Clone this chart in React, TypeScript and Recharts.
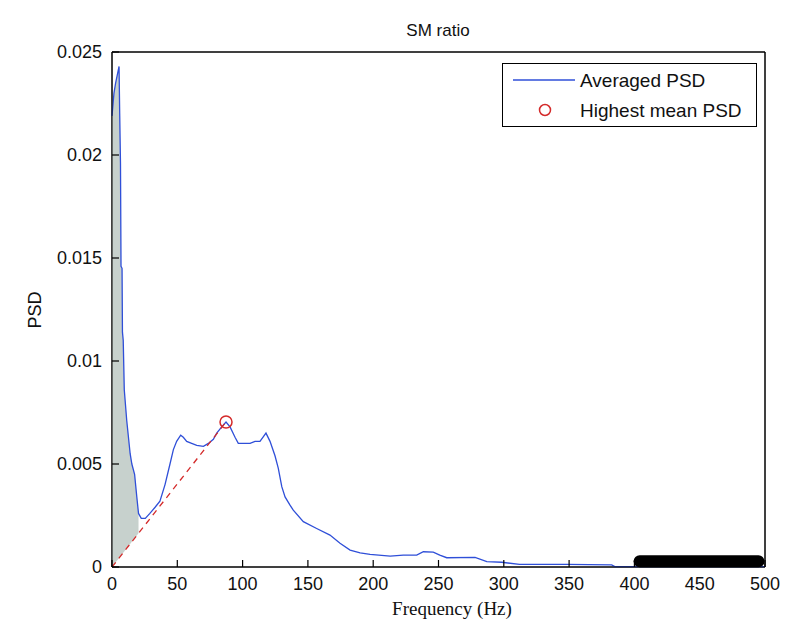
import React from "react";
import {
  ComposedChart,
  Line,
  Area,
  Scatter,
  XAxis,
  YAxis,
  Legend,
  ReferenceArea,
} from "recharts";

// averaged PSD curve
const freqHz = [
  0, 1.5, 2.8, 4.1, 5.4, 5.9, 6.5, 6.9, 7.7, 8.0, 8.6, 9.4, 11.3, 13.9, 15.2,
  17.3, 19.0, 20.3, 22.4, 25.5, 29, 33, 36.7, 40.6, 44.4, 47, 49.5, 52.6, 54.6,
  57.2, 61, 64.9, 70, 73.8, 77.6, 80.2, 84, 87.3, 90.4, 94.2, 96.7, 101.8,
  105.7, 109.5, 113.3, 117.9, 121, 124.8, 127.3, 130, 132.5, 136.3, 138.8,
  146.5, 156.7, 166.9, 174.6, 182.3, 190, 197.6, 213, 223, 233.3, 238.4, 246,
  251, 256.3, 278, 287, 298.4, 312, 348, 382.6, 385, 400, 450, 500,
];
const psd = [
  0.0219, 0.023, 0.0235, 0.0239, 0.0243, 0.022, 0.0196, 0.0146, 0.0145,
  0.0114, 0.011, 0.0086, 0.0071, 0.0055, 0.005, 0.0045, 0.0034, 0.0026,
  0.00236, 0.00236, 0.0026, 0.0029, 0.0032, 0.004, 0.005, 0.0057, 0.0061,
  0.0064, 0.0063, 0.0061, 0.006, 0.0059, 0.00586, 0.006, 0.0062, 0.0065,
  0.0068, 0.00704, 0.0068, 0.0063, 0.006, 0.006, 0.006, 0.0061, 0.0061, 0.0065,
  0.0061, 0.0054, 0.0048, 0.0039, 0.0034, 0.003, 0.00276, 0.0022, 0.00187,
  0.00155, 0.00115, 0.00082, 0.00069, 0.00061, 0.00053, 0.00058, 0.00058,
  0.00074, 0.00072, 0.00058, 0.00045, 0.00047, 0.00026, 0.00023, 0.00013,
  0.00013, 0.0001, 0.00002, 0.00002, 0.00002, 0.00002,
];

// highest mean PSD point
const peakFreq = 87.3;
const peakPsd = 0.00704;
// shaded band ends here
const shadeEndHz = 20.3;
// thick black marker run near the axis
const bandFreq = [404, 495];
const bandPsd = [0.00028, 0.00028];

const xTicks = [0, 50, 100, 150, 200, 250, 300, 350, 400, 450, 500];
const yTicks = [0, 0.005, 0.01, 0.015, 0.02, 0.025];
const yTickLabels = ["0", "0.005", "0.01", "0.015", "0.02", "0.025"];

const curveData = freqHz.map((f, i) => ({
  f,
  psd: psd[i],
  shade: f <= shadeEndHz ? [(peakPsd * f) / peakFreq, psd[i]] : undefined,
}));
const dashData = [
  { f: 0, v: 0 },
  { f: peakFreq, v: peakPsd },
];
const peakData = [{ f: peakFreq, v: peakPsd }];
const bandData = bandFreq.map((f, i) => ({ f, v: bandPsd[i] }));

const BLUE = "#2f4fd8";
const RED = "#d42a2a";
const FONT = "'Liberation Sans', Arial, sans-serif";

const BottomTick = (props: any) => {
  const { x, y, payload } = props;
  return (
    <g>
      <line x1={x} y1={y} x2={x} y2={y - 7} stroke="#000" strokeWidth={1.2} />
      <text x={x} y={y + 17} textAnchor="middle" dominantBaseline="central" fontSize={18} fontFamily={FONT} fill="#111">
        {payload.value}
      </text>
    </g>
  );
};

const TopTick = (props: any) => {
  const { x, y } = props;
  return <line x1={x} y1={y} x2={x} y2={y + 7} stroke="#000" strokeWidth={1.2} />;
};

const LeftTick = (props: any) => {
  const { x, y, payload } = props;
  const idx = yTicks.indexOf(payload.value);
  return (
    <g>
      <line x1={x} y1={y} x2={x + 7} y2={y} stroke="#000" strokeWidth={1.2} />
      <text x={x - 10} y={y} textAnchor="end" dominantBaseline="central" fontSize={18} fontFamily={FONT} fill="#111">
        {idx >= 0 ? yTickLabels[idx] : payload.value}
      </text>
    </g>
  );
};

const RightTick = (props: any) => {
  const { x, y } = props;
  return <line x1={x} y1={y} x2={x - 7} y2={y} stroke="#000" strokeWidth={1.2} />;
};

const LegendBox = () => (
  <svg width={256} height={65}>
    <rect x={0.5} y={0.5} width={254} height={63} fill="#fff" stroke="#000" />
    <line x1={11} y1={17} x2={73} y2={17} stroke={BLUE} strokeWidth={1.3} />
    <text x={78} y={17} dominantBaseline="central" fontSize={19} fontFamily={FONT} fill="#111">
      Averaged PSD
    </text>
    <circle cx={43} cy={47} r={5.5} fill="none" stroke={RED} strokeWidth={1.5} />
    <text x={78} y={47} dominantBaseline="central" fontSize={19} fontFamily={FONT} fill="#111">
      Highest mean PSD
    </text>
  </svg>
);

export default function App() {
  return (
    <div style={{ position: "absolute", left: 0, top: 0, background: "#fff" }}>
      <ComposedChart
        width={795}
        height={638}
        margin={{ top: 51, right: 0, bottom: 0, left: 0 }}
      >
        <XAxis
          xAxisId="bottom"
          dataKey="f"
          type="number"
          domain={[0, 500]}
          ticks={xTicks}
          orientation="bottom"
          height={71}
          tickSize={0}
          tickMargin={0}
          tickLine={false}
          axisLine={{ stroke: "#000" }}
          tick={<BottomTick />}
          interval={0}
          label={{
            content: () => (
              <text x={452} y={608} textAnchor="middle" dominantBaseline="central" fontSize={19} fontFamily="'Liberation Serif', 'Times New Roman', serif" fill="#111">
                Frequency (Hz)
              </text>
            ),
          }}
        />
        <XAxis
          xAxisId="top"
          dataKey="f"
          type="number"
          domain={[0, 500]}
          ticks={xTicks}
          orientation="top"
          height={1}
          tickSize={0}
          tickMargin={0}
          tickLine={false}
          axisLine={{ stroke: "#000" }}
          tick={<TopTick />}
          interval={0}
          label={{
            content: () => (
              <text x={438} y={30} textAnchor="middle" dominantBaseline="central" fontSize={17} fontFamily={FONT} fill="#111">
                SM ratio
              </text>
            ),
          }}
        />
        <YAxis
          yAxisId="left"
          type="number"
          domain={[0, 0.025]}
          ticks={yTicks}
          orientation="left"
          width={112}
          tickSize={0}
          tickMargin={0}
          tickLine={false}
          axisLine={{ stroke: "#000" }}
          tick={<LeftTick />}
          interval={0}
          label={{
            content: () => (
              <text x={35} y={310} transform="rotate(-90 35 310)" textAnchor="middle" dominantBaseline="central" fontSize={18} fontFamily={FONT} fill="#111">
                PSD
              </text>
            ),
          }}
        />
        <YAxis
          yAxisId="right"
          type="number"
          domain={[0, 0.025]}
          ticks={yTicks}
          orientation="right"
          width={30}
          tickSize={0}
          tickMargin={0}
          tickLine={false}
          axisLine={{ stroke: "#000" }}
          tick={<RightTick />}
          interval={0}
        />
        <ReferenceArea
          xAxisId="bottom"
          yAxisId="left"
          x1={0}
          x2={500}
          y1={0}
          y2={0.025}
          fill="none"
          stroke="#000"
          strokeWidth={1}
          ifOverflow="visible"
        />
        <Area
          xAxisId="bottom"
          yAxisId="left"
          data={curveData}
          dataKey="shade"
          type="linear"
          stroke="none"
          fill="#c7d1cd"
          fillOpacity={1}
          isAnimationActive={false}
          connectNulls={false}
        />
        <Line
          xAxisId="bottom"
          yAxisId="left"
          data={curveData}
          dataKey="psd"
          type="linear"
          stroke={BLUE}
          strokeWidth={1.3}
          dot={false}
          isAnimationActive={false}
        />
        <Line
          xAxisId="bottom"
          yAxisId="left"
          data={dashData}
          dataKey="v"
          type="linear"
          stroke={RED}
          strokeWidth={1.3}
          strokeDasharray="6 5"
          dot={false}
          isAnimationActive={false}
        />
        <Line
          xAxisId="bottom"
          yAxisId="left"
          data={bandData}
          dataKey="v"
          type="linear"
          stroke="#000"
          strokeWidth={12}
          strokeLinecap="round"
          dot={false}
          isAnimationActive={false}
        />
        <Scatter
          xAxisId="bottom"
          yAxisId="left"
          data={peakData}
          dataKey="v"
          isAnimationActive={false}
          shape={(p: any) => (
            <circle cx={p.cx} cy={p.cy} r={6} fill="none" stroke={RED} strokeWidth={1.5} />
          )}
        />
        <Legend
          layout="vertical"
          align="center"
          verticalAlign="middle"
          wrapperStyle={{ position: "absolute", left: 502, top: 63, width: 256, height: 65 }}
          content={() => <LegendBox />}
        />
      </ComposedChart>
    </div>
  );
}
